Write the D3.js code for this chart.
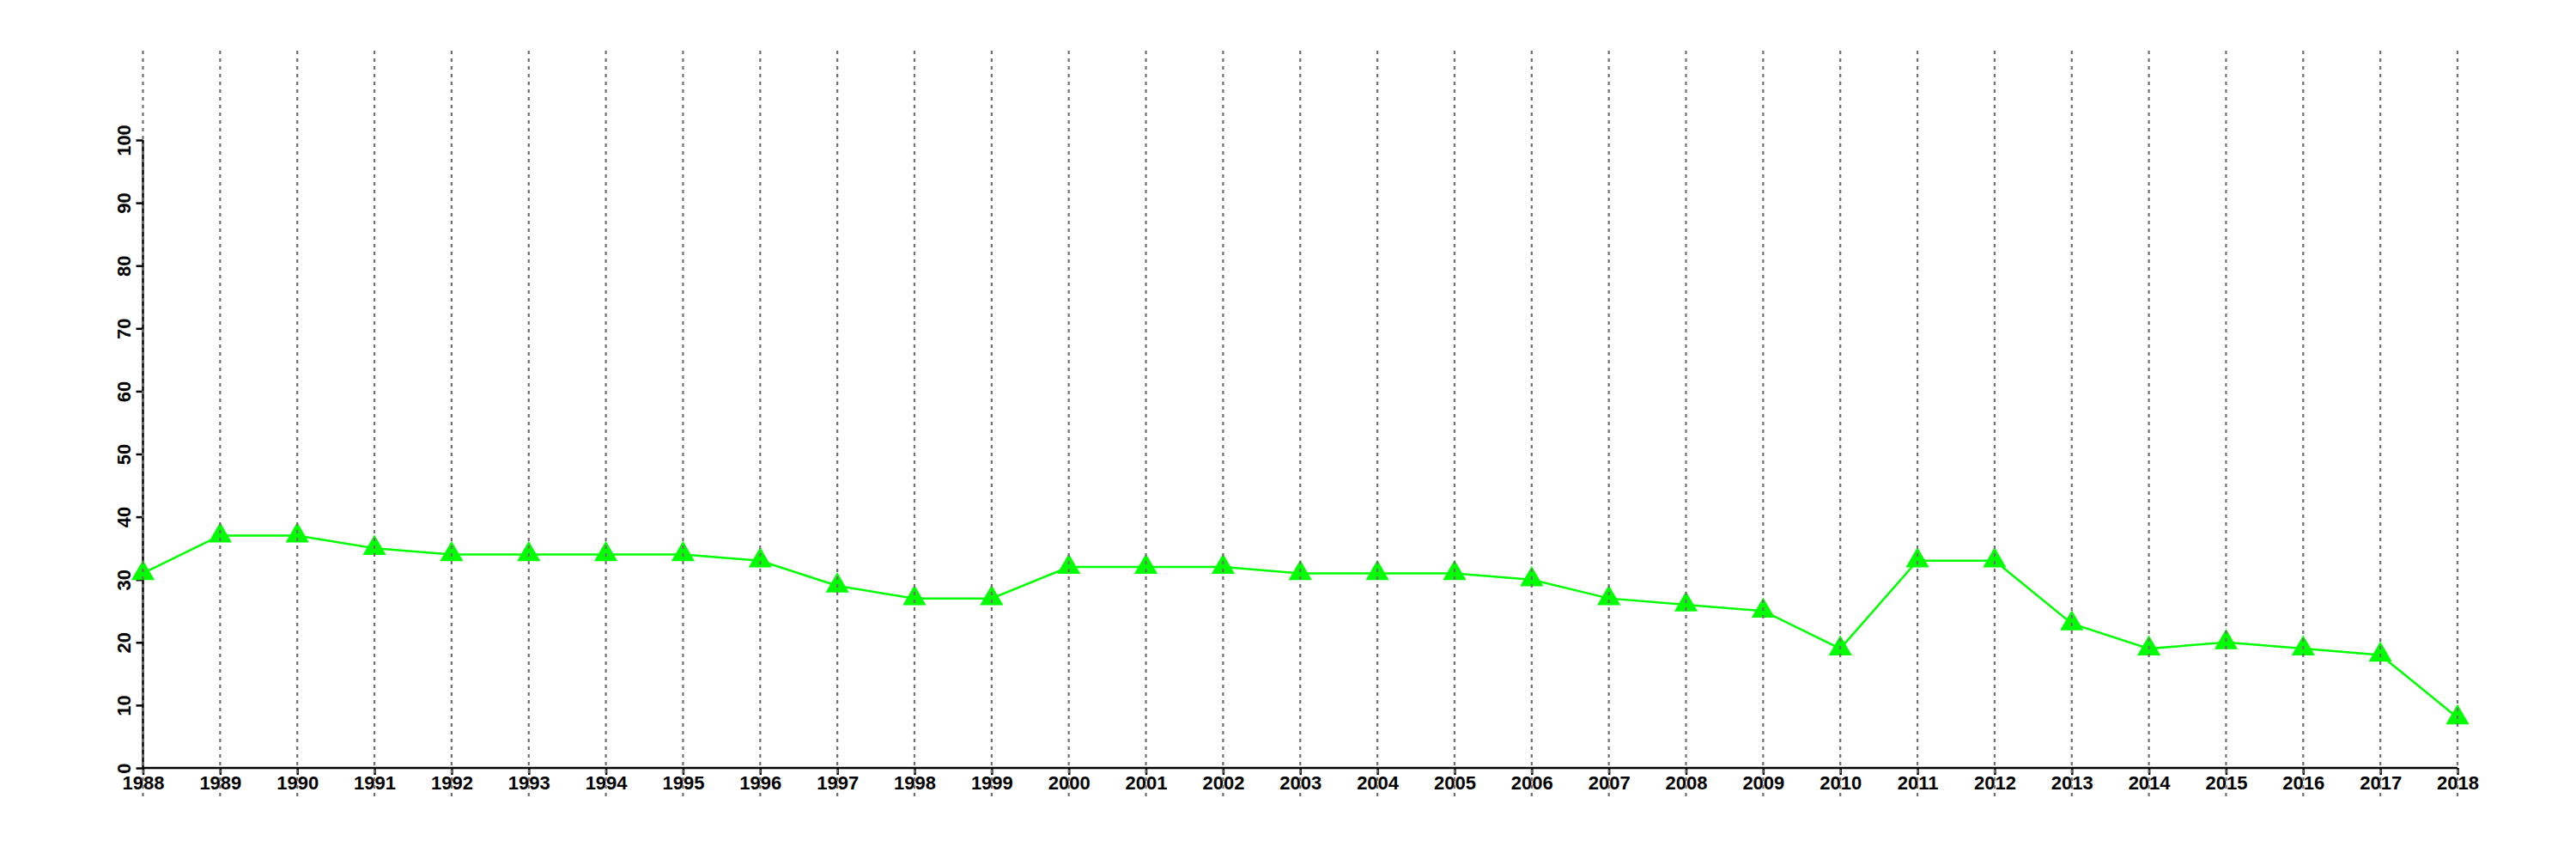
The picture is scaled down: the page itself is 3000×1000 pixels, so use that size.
<!DOCTYPE html>
<html><head><meta charset="utf-8">
<script src="https://cdn.jsdelivr.net/npm/d3@7"></script>
<style>body{margin:0;background:#fff}</style>
</head><body>
<script>
const years = [1988,1989,1990,1991,1992,1993,1994,1995,1996,1997,1998,1999,2000,2001,2002,2003,2004,2005,2006,2007,2008,2009,2010,2011,2012,2013,2014,2015,2016,2017,2018];
const values = [31,37,37,35,34,34,34,34,33,29,27,27,32,32,32,31,31,31,30,27,26,25,19,33,33,23,19,20,19,18,8];
const yTicks = [0,10,20,30,40,50,60,70,80,90,100];

const W = 3000, H = 1000;
const svg = d3.select("body").append("svg").attr("width", W).attr("height", H);
const x = d3.scaleLinear().domain([1988, 2018]).range([166.5, 2862]);
const y = d3.scaleLinear().domain([0, 100]).range([894, 163]);
const font = "'Liberation Sans', Arial, sans-serif";

// y axis
const ya = svg.append("g").attr("transform", `translate(${x(1988)},0)`)
  .call(d3.axisLeft(y).tickValues(yTicks).tickSize(8).tickPadding(0).tickFormat(d3.format("d")));
ya.select(".domain").attr("stroke", "#000").attr("stroke-width", 2.5).attr("d", `M0,${y(0)}V${y(100)}`);
ya.selectAll(".tick line").attr("stroke", "#000").attr("stroke-width", 2.5);
ya.selectAll(".tick text")
  .attr("transform", "translate(-15,0) rotate(-90)")
  .attr("x", 0).attr("y", 0).attr("dy", 0)
  .attr("text-anchor", "middle")
  .attr("font-family", font).attr("font-weight", "bold").attr("font-size", 22).attr("fill", "#000");

// x axis
const xa = svg.append("g").attr("transform", `translate(0,${y(0)})`)
  .call(d3.axisBottom(x).tickValues(years).tickSize(8).tickPadding(0).tickFormat(d3.format("d")));
xa.select(".domain").attr("stroke", "#000").attr("stroke-width", 2.5).attr("d", `M${x(1988)},0H${x(2018)}`);
xa.selectAll(".tick line").attr("stroke", "#000").attr("stroke-width", 2.5);
xa.selectAll(".tick text").attr("y", 25).attr("dy", 0)
  .attr("font-family", font).attr("font-weight", "bold").attr("font-size", 22).attr("fill", "#000");

// line
const line = d3.line().x((d, i) => x(years[i])).y(d => y(d));
svg.append("path").datum(values).attr("d", line)
  .attr("fill", "none").attr("stroke", "#00ff00").attr("stroke-width", 2.5);

// points
svg.append("g").selectAll("path").data(values).join("path")
  .attr("transform", (d, i) => `translate(${x(years[i])},${y(d)})`)
  .attr("d", d3.symbol().type(d3.symbolTriangle).size(320))
  .attr("fill", "#00ff00");

// vertical dotted grid lines
svg.append("g").selectAll("line").data(years).join("line")
  .attr("x1", d => x(d)).attr("x2", d => x(d))
  .attr("y1", 59).attr("y2", 928)
  .attr("stroke", "#707070").attr("stroke-width", 2.2)
  .attr("stroke-dasharray", "4,5");
</script>
</body></html>
